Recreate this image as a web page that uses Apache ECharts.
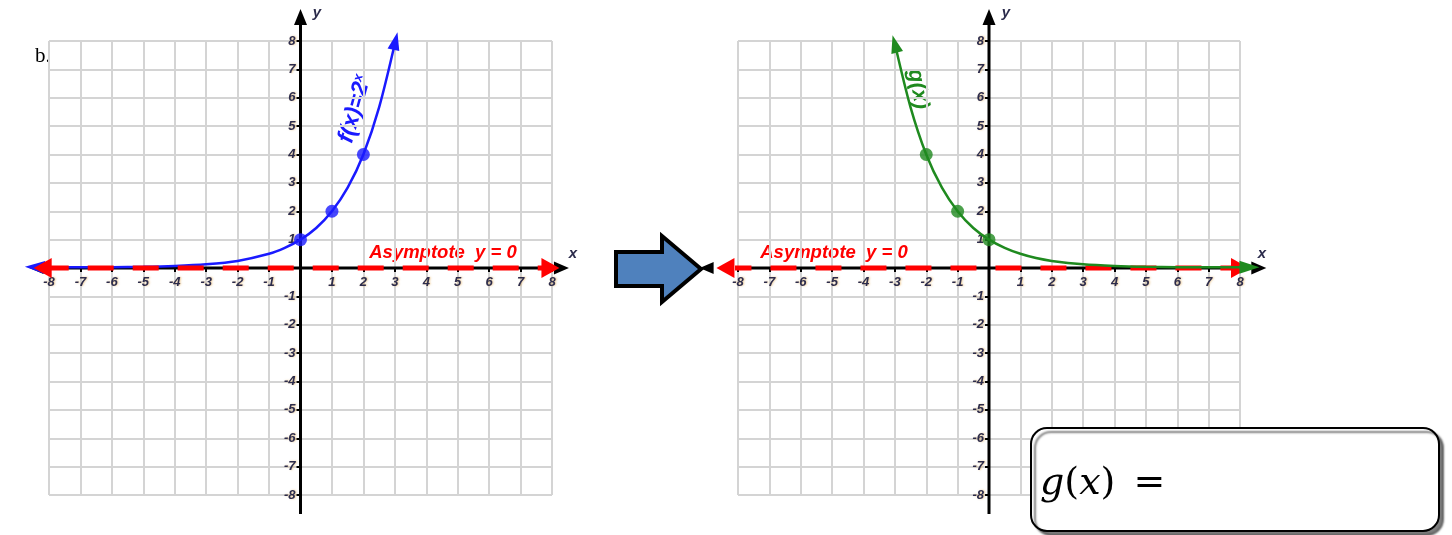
<!DOCTYPE html>
<html>
<head>
<meta charset="utf-8">
<title>reflection of 2^x</title>
<script src="https://cdn.jsdelivr.net/npm/echarts@6/dist/echarts.min.js"></script>
<style>
  html, body { margin: 0; padding: 0; background: #fff; }
  #chart { width: 1452px; height: 535px; }
</style>
</head>
<body>
<div id="chart"></div>
<script>
// shared axis range of both grids
const axisMin = -8;
const axisMax = 8;

// f(x) = 2^x
const fCurveX = [-8.45, -8, -7, -6, -5, -4, -3, -2, -1, -0.5, 0, 0.5, 1, 1.5, 2, 2.5, 3.02];
const fCurveY = [0.03, 0.03, 0.03, 0.03, 0.04, 0.07, 0.13, 0.25, 0.5, 0.71, 1, 1.41, 2, 2.83, 4, 5.66, 8.0];
const fPointsX = [0, 1, 2];
const fPointsY = [1, 2, 4];

// g(x), the reflected curve on the right graph
const gCurveX = [-3.0, -2.5, -2, -1.5, -1, -0.5, 0, 0.5, 1, 1.5, 2, 3, 4, 5, 6, 7, 8.3];
const gCurveY = [7.9, 5.66, 4, 2.83, 2, 1.41, 1, 0.71, 0.5, 0.35, 0.25, 0.13, 0.07, 0.04, 0.03, 0.03, 0.03];
const gPointsX = [-2, -1, 0];
const gPointsY = [4, 2, 1];

// asymptote y = 0, ends of the dashed line
const asymLeftX = [-8.2, 7.95];
const asymRightX = [-8.4, 8.0];
const asymY = [0, 0];

// black axes, they run past the grid
const axisLeftX = [-8.4, 8.3];
const axisRightX = [-9.0, 8.6];
const axisZero = [0, 0];
const axisY = [-8.67, 8.85];

const labelColor = "#2c2c4c";
const labelFont = "Liberation Sans";

let chart = echarts.init(document.getElementById("chart"), null, { renderer: "canvas" });

let tickLabel = (v) => (v === 0 ? "" : String(v));

// grid lines only
let gridAxis = (gi) => ({
    gridIndex: gi,
    type: "value",
    min: axisMin,
    max: axisMax,
    interval: 1,
    axisLine: { show: false, onZero: false },
    axisTick: { show: false },
    axisLabel: { show: false },
    splitLine: { show: true, lineStyle: { color: "#d4d4d4", width: 2 } },
});

// ticks and numbers that sit on the zero lines
let labelAxis = (gi, dim) => ({
    gridIndex: gi,
    type: "value",
    min: axisMin,
    max: axisMax,
    interval: 1,
    position: dim === "x" ? "bottom" : "left",
    axisLine: { show: false, onZero: false },
    axisTick: { show: true, length: 4, lineStyle: { color: "#000", width: 2 } },
    axisLabel: {
        formatter: tickLabel,
        margin: dim === "x" ? 8 : 5,
        fontSize: 13,
        fontWeight: "bold",
        fontStyle: "italic",
        fontFamily: labelFont,
        color: labelColor,
        textShadowColor: "rgba(220,150,40,0.5)",
        textShadowBlur: 2,
        textShadowOffsetX: 1,
    },
    splitLine: { show: false },
});

let hiddenAxis = (gi) => ({ gridIndex: gi, type: "value", min: 0, max: 1, show: false });

// heads: [start, end], each null or { rotate, size }
let arrowLine = (gi, xs, ys, color, width, heads, extra) => {
    let last = xs.length - 1;
    let data = xs.map((x, i) => {
        let head = i === 0 ? heads[0] : i === last ? heads[1] : null;
        if (!head) {
            return { value: [x, ys[i]], symbol: "none" };
        }
        return {
            value: [x, ys[i]],
            symbol: "triangle",
            symbolSize: head.size,
            symbolRotate: head.rotate,
        };
    });
    return Object.assign(
        {
            type: "line",
            xAxisIndex: gi,
            yAxisIndex: gi,
            data: data,
            showSymbol: true,
            clip: false,
            silent: true,
            animation: false,
            lineStyle: { color: color, width: width },
            itemStyle: { color: color },
            emphasis: { disabled: true },
        },
        extra || {}
    );
};

let dots = (gi, xs, ys, color) => ({
    type: "scatter",
    xAxisIndex: gi,
    yAxisIndex: gi,
    data: xs.map((x, i) => [x, ys[i]]),
    symbolSize: 13,
    itemStyle: { color: color },
    silent: true,
    animation: false,
    z: 4,
});

let blue = "#1a1aff";
let green = "#1f8a1f";
let red = "#ff0000";

let series = [
    // left graph
    arrowLine(0, axisLeftX, axisZero, "#000", 3, [{ rotate: 90, size: [12, 14] }, { rotate: -90, size: [13, 15] }], { z: 1 }),
    arrowLine(0, axisZero, axisY, "#000", 3, [null, { rotate: 0, size: [13, 16] }], { z: 1 }),
    arrowLine(0, fCurveX, fCurveY, blue, 2.5, [{ rotate: 88, size: [13, 20] }, { rotate: -13, size: [12, 18] }], {
        smooth: 0.3,
        z: 2,
    }),
    dots(0, fPointsX, fPointsY, blue),
    arrowLine(0, asymLeftX, asymY, red, 5, [{ rotate: 90, size: [20, 18] }, { rotate: -90, size: [20, 18] }], {
        lineStyle: { color: red, width: 5, type: [26, 19] },
        z: 3,
    }),

    // right graph
    arrowLine(1, axisRightX, axisZero, "#000", 3, [{ rotate: 90, size: [12, 14] }, { rotate: -90, size: [13, 15] }], { z: 1 }),
    arrowLine(1, axisZero, axisY, "#000", 3, [null, { rotate: 0, size: [13, 16] }], { z: 1 }),
    arrowLine(1, asymRightX, asymY, red, 5, [{ rotate: 90, size: [20, 18] }, { rotate: -90, size: [20, 18] }], {
        lineStyle: { color: red, width: 5, type: [26, 19] },
        z: 2,
    }),
    arrowLine(1, gCurveX, gCurveY, green, 2.5, [{ rotate: 15, size: [12, 18] }, { rotate: -90, size: [13, 20] }], {
        smooth: 0.3,
        z: 3,
    }),
    dots(1, gPointsX, gPointsY, green),
];

let textStyle = (text, color, size, extra) =>
    Object.assign(
        {
            text: text,
            fill: color,
            fontSize: size,
            fontWeight: "bold",
            fontStyle: "italic",
            fontFamily: labelFont,
            align: "center",
            verticalAlign: "middle",
        },
        extra || {}
    );

let graphic = [
    {
        type: "text",
        x: 35,
        y: 56,
        style: {
            text: "b.",
            fill: "#000",
            fontSize: 21,
            fontFamily: "Liberation Serif",
            verticalAlign: "middle",
        },
    },
    // curve labels
    {
        type: "text",
        x: 355,
        y: 109,
        rotation: 1.3,
        style: {
            text: "{b|f(x)=2}{s|x}",
            align: "center",
            verticalAlign: "middle",
            rich: {
                b: { fill: blue, fontSize: 23, fontWeight: "bold", fontStyle: "italic", fontFamily: labelFont },
                s: {
                    fill: blue,
                    fontSize: 13,
                    fontWeight: "bold",
                    fontStyle: "italic",
                    fontFamily: labelFont,
                    verticalAlign: "top",
                },
            },
        },
    },
    { type: "text", x: 918, y: 89, rotation: -1.4, style: textStyle("g(x)", green, 22) },
    // asymptote labels
    { type: "text", x: 443, y: 253, style: textStyle("Asymptote  y = 0", red, 18.5) },
    { type: "text", x: 834, y: 253, style: textStyle("Asymptote  y = 0", red, 18.5) },
    // axis letters
    { type: "text", x: 573, y: 254, style: textStyle("x", labelColor, 15) },
    { type: "text", x: 317, y: 13, style: textStyle("y", labelColor, 15) },
    { type: "text", x: 1262, y: 254, style: textStyle("x", labelColor, 15) },
    { type: "text", x: 1006, y: 13, style: textStyle("y", labelColor, 15) },
    // block arrow between the graphs
    {
        type: "polygon",
        shape: {
            points: [
                [616, 252],
                [662, 252],
                [662, 236],
                [701, 269],
                [662, 302],
                [662, 286],
                [616, 286],
            ],
        },
        style: { fill: "#4f81bd", stroke: "#000", lineWidth: 4, lineJoin: "miter" },
    },
    // answer box
    {
        type: "rect",
        shape: { x: 1031, y: 428, width: 408, height: 103, r: 16 },
        style: {
            fill: "#fff",
            stroke: "#000",
            lineWidth: 2,
            shadowColor: "rgba(0,0,0,0.5)",
            shadowOffsetX: 4,
            shadowOffsetY: 4,
            shadowBlur: 2,
        },
        z: 10,
    },
    {
        type: "text",
        x: 1040,
        y: 484,
        z: 11,
        style: {
            text: "{i|g}{n|(}{i|x}{n|)}{e|=}",
            verticalAlign: "middle",
            rich: {
                i: { fill: "#000", fontSize: 38, fontStyle: "italic", fontFamily: "DejaVu Serif" },
                n: { fill: "#000", fontSize: 38, fontFamily: "DejaVu Serif" },
                e: { fill: "#000", fontSize: 38, fontFamily: "DejaVu Serif", padding: [0, 0, 0, 18] },
            },
        },
    },
];

chart.setOption({
    backgroundColor: "#fff",
    animation: false,
    grid: [
        { left: 49, top: 41, width: 503, height: 454, outerBoundsMode: "none" },
        { left: 738, top: 41, width: 502, height: 454, outerBoundsMode: "none" },
        // label strips, their edges sit on the zero lines
        { left: 49, top: 41, width: 503, height: 227, outerBoundsMode: "none" },
        { left: 300.5, top: 41, width: 251.5, height: 454, outerBoundsMode: "none" },
        { left: 738, top: 41, width: 502, height: 227, outerBoundsMode: "none" },
        { left: 989, top: 41, width: 251, height: 454, outerBoundsMode: "none" },
    ],
    xAxis: [gridAxis(0), gridAxis(1), labelAxis(2, "x"), hiddenAxis(3), labelAxis(4, "x"), hiddenAxis(5)],
    yAxis: [gridAxis(0), gridAxis(1), hiddenAxis(2), labelAxis(3, "y"), hiddenAxis(4), labelAxis(5, "y")],
    series: series,
    graphic: graphic,
});
</script>
</body>
</html>
